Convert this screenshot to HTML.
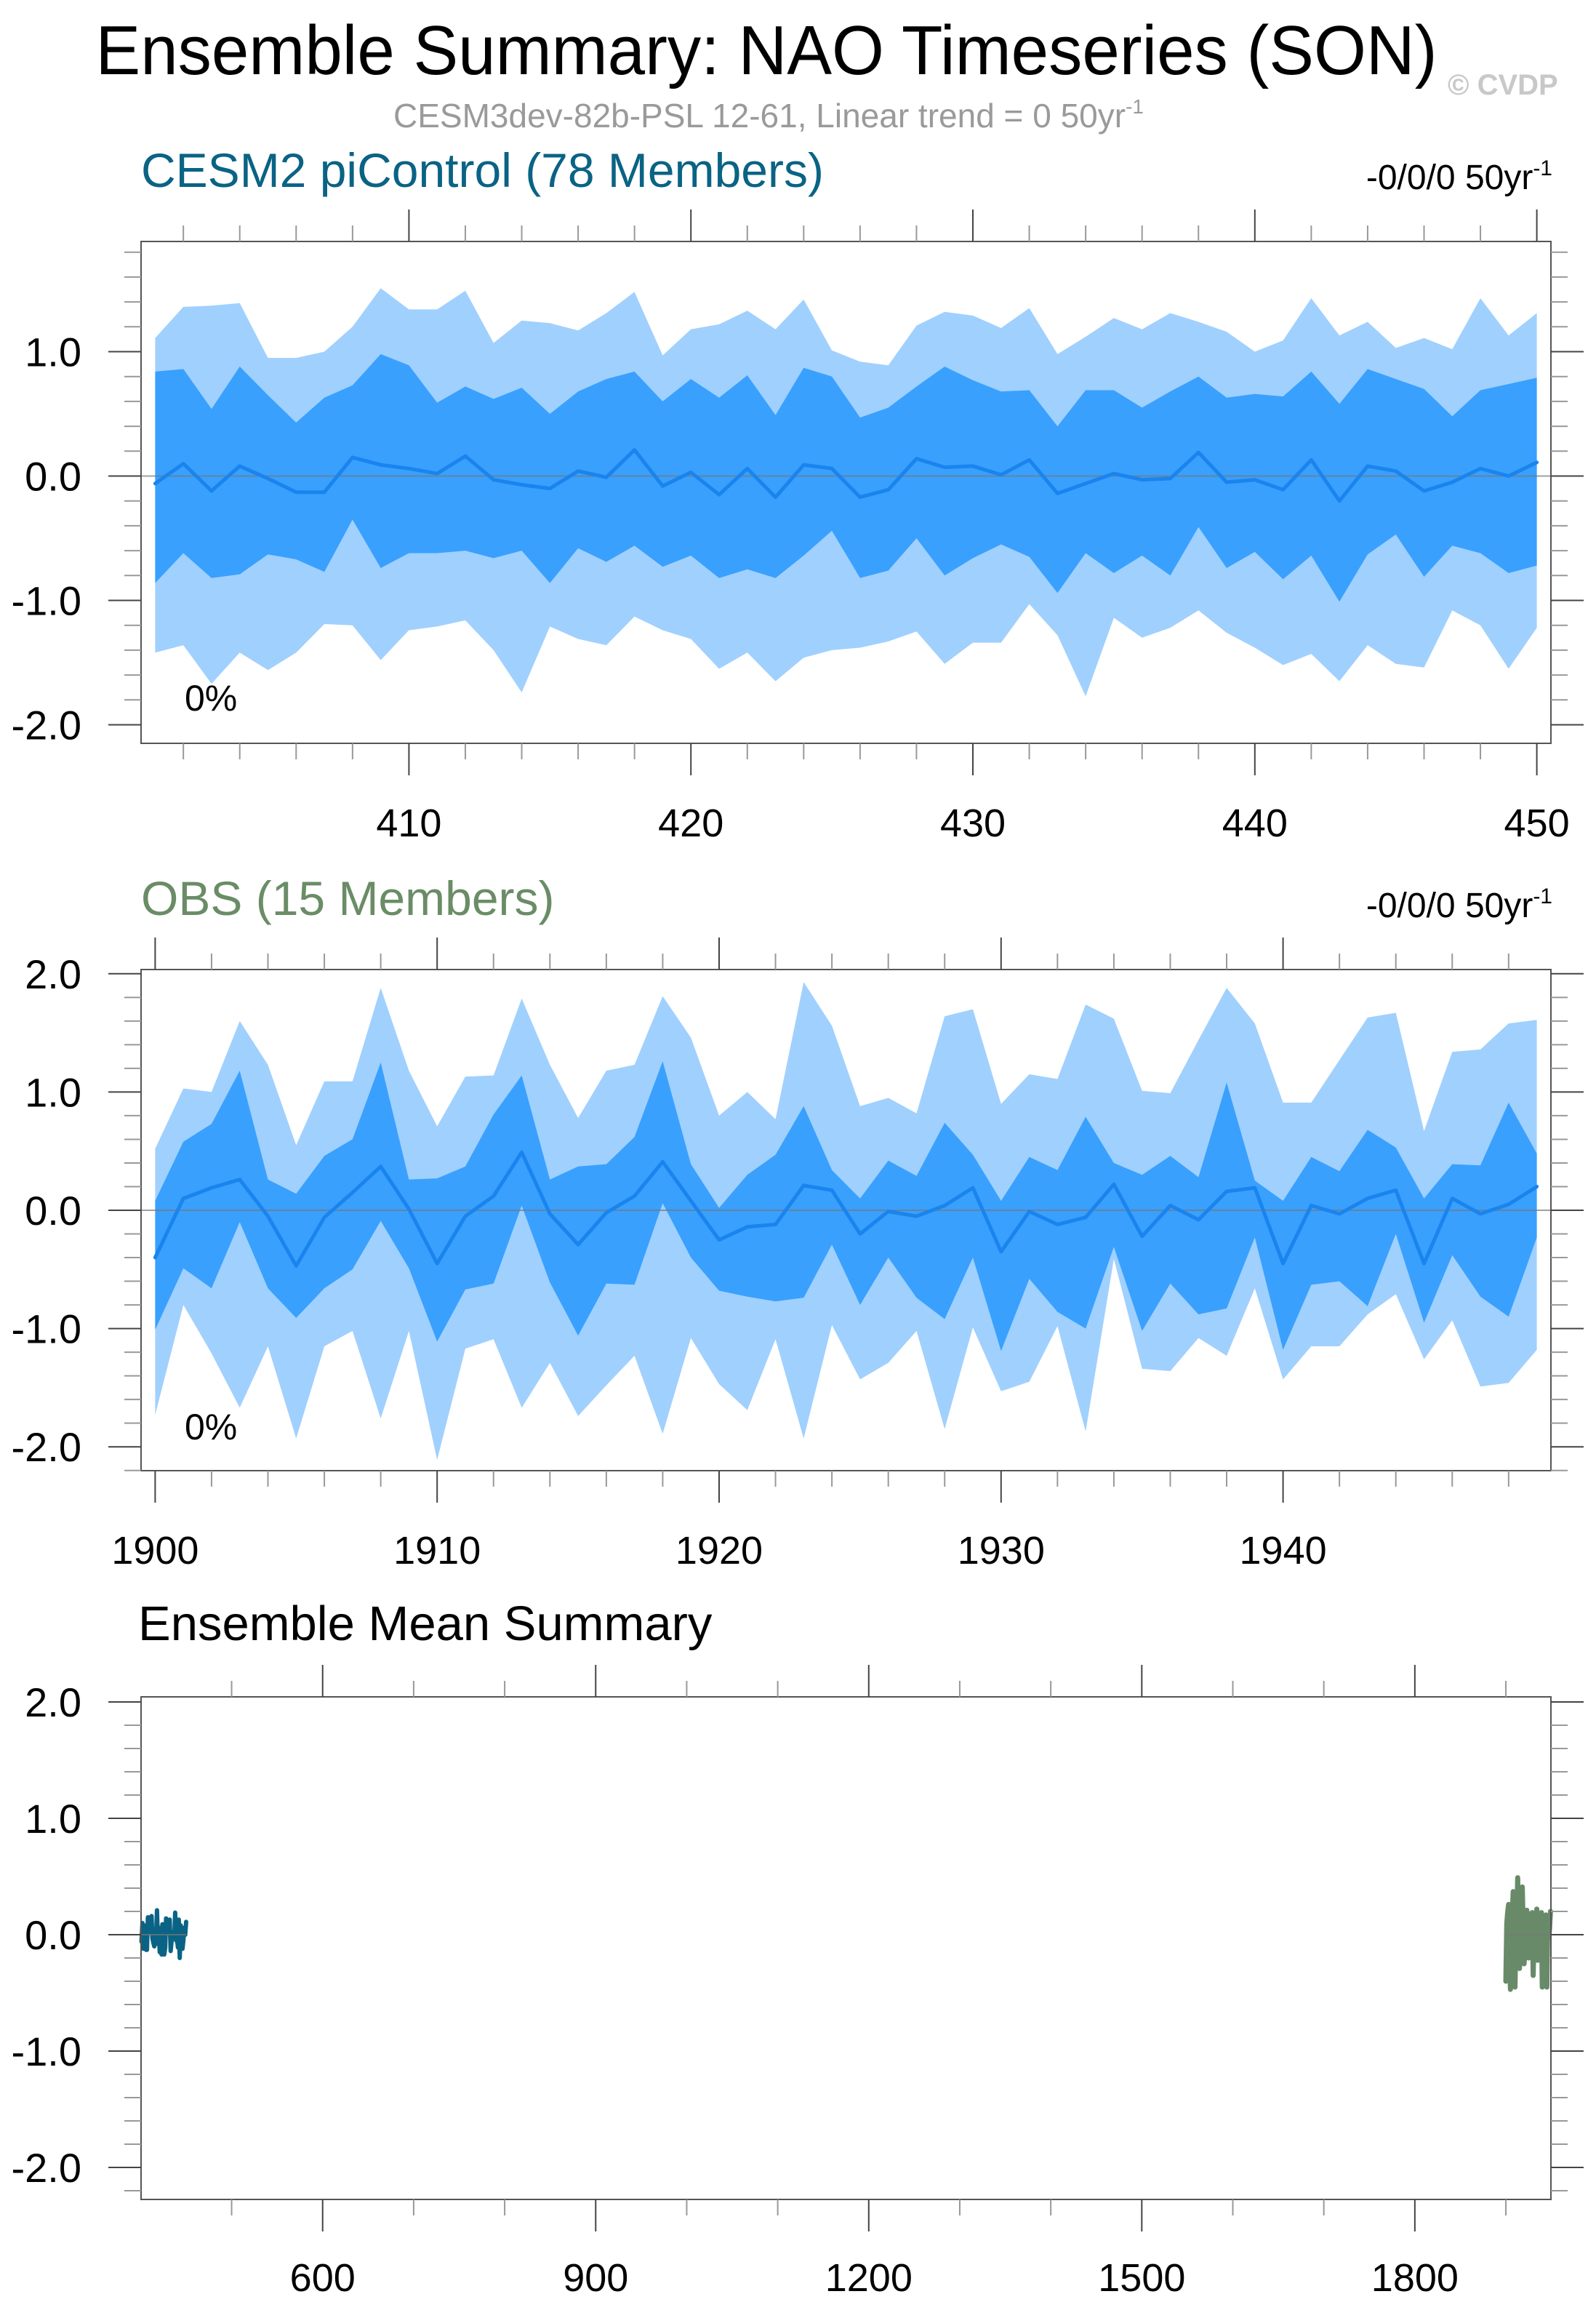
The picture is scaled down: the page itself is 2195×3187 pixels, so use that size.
<!DOCTYPE html>
<html><head><meta charset="utf-8"><title>NAO Timeseries Ensemble Summary</title>
<style>
html,body{margin:0;padding:0;background:#fff;}
svg{display:block;font-family:"Liberation Sans",Arial,sans-serif;}
</style></head>
<body>
<svg id="fig" xmlns="http://www.w3.org/2000/svg" width="2195" height="3187" viewBox="0 0 2195 3187">
<text x="1054" y="102" font-size="96" text-anchor="middle" textLength="1845" lengthAdjust="spacingAndGlyphs" fill="#000">Ensemble Summary: NAO Timeseries (SON)</text>
<text x="1991" y="130" font-size="40" font-weight="bold" fill="#c8c8c8">© CVDP</text>
<text x="1057" y="175" font-size="46" text-anchor="middle" fill="#9a9a9a">CESM3dev-82b-PSL 12-61, Linear trend = 0 50yr<tspan font-size="28" dy="-19">-1</tspan></text>

<text x="194" y="257" font-size="66" fill="#0a6384">CESM2 piControl (78 Members)</text>
<text x="2135" y="260" font-size="48" text-anchor="end" fill="#000">-0/0/0 50yr<tspan font-size="30" dy="-19">-1</tspan></text>
<g id="p1"></g>

<text x="194" y="1258" font-size="66" fill="#6a8c66">OBS (15 Members)</text>
<text x="2135" y="1261" font-size="48" text-anchor="end" fill="#000">-0/0/0 50yr<tspan font-size="30" dy="-19">-1</tspan></text>
<g id="p2"></g>

<text x="190" y="2255" font-size="67" fill="#000">Ensemble Mean Summary</text>
<g id="p3"></g>
</svg>
<script>
// ---- CESM2 piControl (years 401-450) ----
const cesmYears = Array.from({length:50},(_,i)=>401+i);
const cesmMax = [1.11,1.36,1.37,1.39,0.95,0.95,1.0,1.2,1.51,1.34,1.34,1.49,1.07,1.25,1.23,1.17,1.31,1.48,0.97,1.18,1.22,1.33,1.18,1.42,1.01,0.92,
 0.89,1.21,1.32,1.29,1.19,1.35,0.98,1.12,1.27,1.18,1.31,1.24,1.16,1.0,1.09,1.43,1.13,1.24,1.03,1.11,1.02,1.43,1.13,1.31];
const cesmHi = [0.84,0.86,0.54,0.88,0.65,0.43,0.63,0.73,0.98,0.89,0.59,0.72,0.62,0.71,0.50,0.68,0.78,0.84,0.60,0.78,0.63,0.81,0.49,0.87,0.80,0.47,
 0.55,0.72,0.88,0.77,0.68,0.69,0.40,0.69,0.69,0.55,0.68,0.80,0.63,0.66,0.64,0.84,0.58,0.86,0.78,0.70,0.48,0.69,0.74,0.79];
const cesmMean = [-0.06,0.10,-0.12,0.08,-0.02,-0.13,-0.13,0.15,0.09,0.06,0.02,0.16,-0.03,-0.07,-0.10,0.04,-0.01,0.21,-0.08,0.03,-0.15,0.06,-0.17,0.09,0.06,-0.17,
 -0.11,0.14,0.07,0.08,0.01,0.13,-0.14,-0.06,0.02,-0.03,-0.02,0.19,-0.05,-0.03,-0.11,0.13,-0.20,0.08,0.04,-0.12,-0.05,0.06,0.0,0.11];
const cesmLo = [-0.86,-0.62,-0.82,-0.79,-0.63,-0.67,-0.77,-0.35,-0.74,-0.62,-0.62,-0.60,-0.66,-0.60,-0.86,-0.58,-0.69,-0.56,-0.73,-0.64,-0.82,-0.75,-0.82,-0.64,-0.44,-0.82,
 -0.76,-0.50,-0.80,-0.66,-0.55,-0.65,-0.94,-0.62,-0.78,-0.64,-0.80,-0.41,-0.74,-0.61,-0.83,-0.64,-1.01,-0.63,-0.47,-0.81,-0.56,-0.62,-0.78,-0.72];
const cesmMin = [-1.42,-1.36,-1.67,-1.42,-1.56,-1.42,-1.19,-1.20,-1.48,-1.24,-1.21,-1.16,-1.40,-1.74,-1.21,-1.31,-1.36,-1.13,-1.24,-1.31,-1.55,-1.42,-1.65,-1.46,-1.40,-1.38,
 -1.33,-1.25,-1.51,-1.34,-1.34,-1.03,-1.28,-1.77,-1.14,-1.30,-1.22,-1.08,-1.26,-1.38,-1.52,-1.43,-1.65,-1.36,-1.51,-1.54,-1.08,-1.20,-1.55,-1.22];
// ---- OBS (years 1900-1949) ----
const obsYears = Array.from({length:50},(_,i)=>1900+i);
const obsMax = [0.52,1.03,1.0,1.60,1.23,0.55,1.09,1.09,1.88,1.18,0.71,1.13,1.14,1.79,1.23,0.78,1.18,1.23,1.81,1.46,0.80,1.0,0.77,1.93,1.56,0.88,
 0.95,0.82,1.64,1.70,0.90,1.15,1.11,1.74,1.62,1.01,0.99,1.44,1.88,1.58,0.91,0.91,1.27,1.63,1.67,0.67,1.34,1.36,1.58,1.61];
const obsHi = [0.08,0.58,0.73,1.18,0.26,0.14,0.46,0.60,1.25,0.26,0.27,0.37,0.81,1.14,0.26,0.37,0.39,0.62,1.26,0.39,0.02,0.30,0.47,0.88,0.34,0.10,
 0.42,0.29,0.74,0.47,0.08,0.45,0.34,0.79,0.40,0.30,0.46,0.28,1.08,0.25,0.08,0.45,0.33,0.68,0.53,0.10,0.39,0.38,0.91,0.48];
const obsMean = [-0.40,0.10,0.19,0.26,-0.05,-0.47,-0.06,0.15,0.37,0.01,-0.45,-0.05,0.12,0.49,-0.03,-0.29,-0.02,0.12,0.41,0.08,-0.25,-0.14,-0.12,0.21,0.17,-0.20,
 -0.01,-0.05,0.04,0.19,-0.35,-0.01,-0.12,-0.06,0.22,-0.22,0.04,-0.08,0.16,0.19,-0.45,0.04,-0.03,0.10,0.17,-0.45,0.10,-0.03,0.05,0.20];
const obsLo = [-1.01,-0.49,-0.66,-0.10,-0.66,-0.91,-0.66,-0.50,-0.09,-0.49,-1.11,-0.67,-0.62,0.04,-0.61,-1.06,-0.62,-0.63,0.06,-0.40,-0.68,-0.73,-0.77,-0.74,-0.29,-0.80,
 -0.40,-0.74,-0.92,-0.40,-1.19,-0.58,-0.86,-1.00,-0.31,-1.02,-0.62,-0.88,-0.83,-0.23,-1.18,-0.63,-0.60,-0.81,-0.20,-0.95,-0.38,-0.73,-0.90,-0.23];
const obsMin = [-1.73,-0.80,-1.21,-1.67,-1.15,-1.93,-1.15,-1.02,-1.76,-1.02,-2.11,-1.17,-1.09,-1.67,-1.29,-1.74,-1.48,-1.23,-1.89,-1.08,-1.47,-1.69,-1.09,-1.93,-0.97,-1.43,
 -1.29,-1.02,-1.85,-0.99,-1.53,-1.45,-0.98,-1.87,-0.41,-1.34,-1.36,-1.08,-1.23,-0.66,-1.43,-1.15,-1.15,-0.88,-0.71,-1.26,-0.93,-1.49,-1.46,-1.18];
// tick labels
const yTickLabels = ["-2.0","-1.0","0.0","1.0","2.0"];
const yTickValues = [-2,-1,0,1,2];
const p1XTicks = [410,420,430,440,450];
const p2XTicks = [1900,1910,1920,1930,1940];
const p3XTicks = [600,900,1200,1500,1800];

const NS="http://www.w3.org/2000/svg";
function mk(parent,tag,attrs){const e=document.createElementNS(NS,tag);for(const k in attrs)e.setAttribute(k,attrs[k]);parent.appendChild(e);return e;}

function panel(g,cfg){
  const L=194,R=2133,T=cfg.top,B=cfg.bottom;
  const sx=v=>L+(v-cfg.x0)/(cfg.x1-cfg.x0)*(R-L);
  const sy=v=>cfg.zeroY - v*cfg.unit;
  if(cfg.bands){
    const band=(up,lo,color,name)=>{
      let d="M"+cfg.years.map((y,i)=>sx(y).toFixed(1)+","+sy(up[i]).toFixed(1)).join("L");
      for(let i=cfg.years.length-1;i>=0;i--) d+="L"+sx(cfg.years[i]).toFixed(1)+","+sy(lo[i]).toFixed(1);
      const p=mk(g,"path",{d:d+"Z",fill:color});
      
      
    };
    band(cfg.max,cfg.min,"#a0d0fe",cfg.prefix+"-minmax-band");
    band(cfg.hi,cfg.lo,"#39a0fe",cfg.prefix+"-spread-band");
    const z=mk(g,"line",{x1:L,x2:R,y1:sy(0),y2:sy(0),stroke:"#777","stroke-width":2,"stroke-opacity":0.7});
    
    
  }
  cfg.lines.forEach(ln=>{
    const pts=ln.years.map((y,i)=>sx(y).toFixed(1)+","+sy(ln.vals[i]).toFixed(1)).join(" ");
    const pl=mk(g,"polyline",{points:pts,fill:"none",stroke:ln.color,"stroke-width":ln.w,"stroke-linejoin":"round","stroke-linecap":"round"});
    
    
    if(!cfg.bands){
      const zl=mk(g,"line",{x1:sx(ln.years[0]),x2:sx(ln.years[ln.years.length-1]),y1:sy(0),y2:sy(0),stroke:"#777","stroke-width":2,"stroke-opacity":0.7});
      
      
    }
  });
  const bx=mk(g,"rect",{x:L,y:T,width:R-L,height:B-T,fill:"none",stroke:"#555","stroke-width":2});
  
  
  for(let v=-3;v<=3.001;v+=0.2){
    const vv=Math.round(v*10)/10; const y=sy(vv);
    if(y<T-1||y>B+1) continue;
    const major=Math.abs(vv-Math.round(vv))<1e-6;
    const len=major?45:23, col=major?"#444":"#999";
    mk(g,"line",{x1:L-len,x2:L,y1:y,y2:y,stroke:col,"stroke-width":2});
    mk(g,"line",{x1:R,x2:R+len,y1:y,y2:y,stroke:col,"stroke-width":2});
  }
  yTickValues.forEach((v,i)=>{
    const y=sy(v); if(y<T-1||y>B+1) return;
    const t=mk(g,"text",{x:112,y:y+20,"font-size":56,"text-anchor":"end",fill:"#000"});
    t.textContent=yTickLabels[i];
    
    
  });
  for(let v=cfg.minorStart;v<=cfg.x1;v+=cfg.minorStep){
    const x=sx(v); const major=cfg.majors.includes(v);
    const len=major?44:22, col=major?"#444":"#999";
    mk(g,"line",{x1:x,x2:x,y1:T-len,y2:T,stroke:col,"stroke-width":2});
    mk(g,"line",{x1:x,x2:x,y1:B,y2:B+len,stroke:col,"stroke-width":2});
  }
  cfg.majors.forEach(v=>{
    const t=mk(g,"text",{x:sx(v),y:cfg.labelY,"font-size":54,"text-anchor":"middle",fill:"#000"});
    t.textContent=String(v);
    
    
  });
  if(cfg.pct){
    const t=mk(g,"text",{x:254,y:cfg.pctY,"font-size":50,fill:"#000"});
    t.textContent="0%";
    
    
  }
}

panel(document.getElementById("p1"),{prefix:"cesm2",top:332,bottom:1022,zeroY:654.5,unit:171,x0:400.5,x1:450.5,
  years:cesmYears,bands:true,max:cesmMax,hi:cesmHi,lo:cesmLo,min:cesmMin,
  lines:[{years:cesmYears,vals:cesmMean,color:"#1a84ee",w:5,name:"cesm2-ensemble-mean-line"}],
  minorStart:402,minorStep:2,majors:p1XTicks,labelY:1150,pct:true,pctY:977});
panel(document.getElementById("p2"),{prefix:"obs",top:1333,bottom:2022,zeroY:1664,unit:162.6,x0:1899.5,x1:1949.5,
  years:obsYears,bands:true,max:obsMax,hi:obsHi,lo:obsLo,min:obsMin,
  lines:[{years:obsYears,vals:obsMean,color:"#1a84ee",w:5,name:"obs-ensemble-mean-line"}],
  minorStart:1900,minorStep:2,majors:p2XTicks,labelY:2150,pct:true,pctY:1979});
panel(document.getElementById("p3"),{prefix:"summary",top:2333,bottom:3024,zeroY:2660,unit:160,x0:400.5,x1:1949.5,
  years:[],bands:false,
  lines:[{years:cesmYears,vals:cesmMean,color:"#0a6384",w:6,name:"cesm2-mean-summary-line"},
         {years:obsYears,vals:obsMean,color:"#688a68",w:7,name:"obs-mean-summary-line"}],
  minorStart:500,minorStep:100,majors:p3XTicks,labelY:3150,pct:false});
</script>
</body></html>
